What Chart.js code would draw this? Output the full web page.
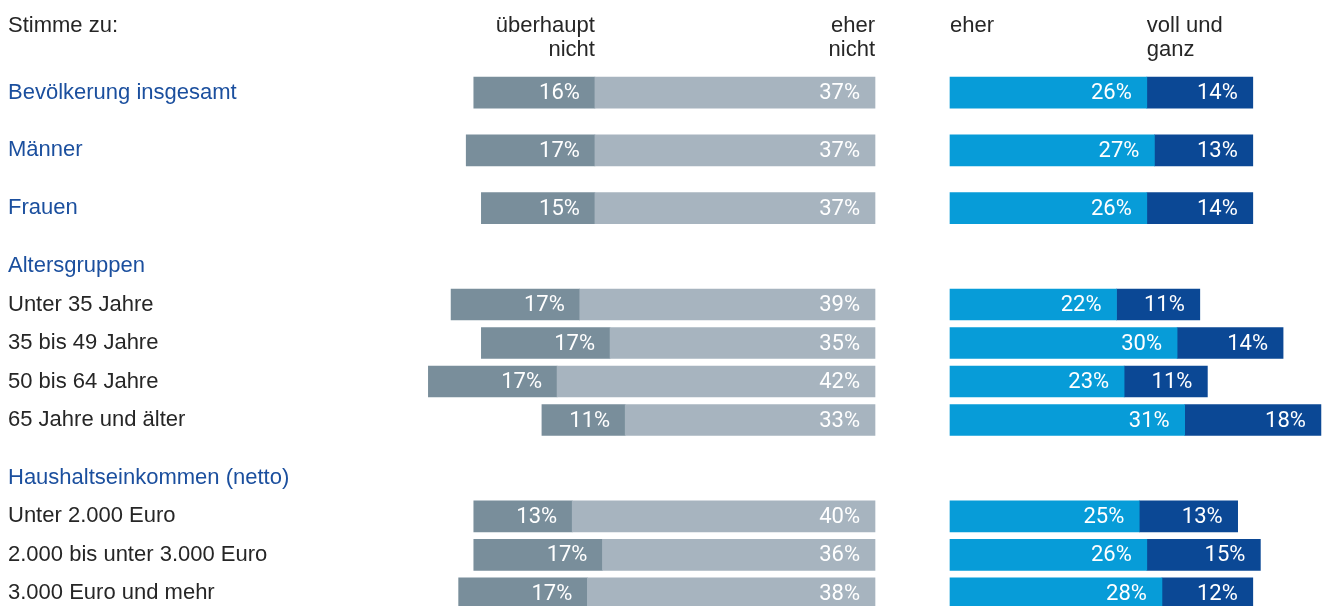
<!DOCTYPE html>
<html>
<head>
<meta charset="utf-8">
<script src="https://cdn.jsdelivr.net/npm/chart.js@4/dist/chart.umd.min.js"></script>
<style>
html, body { margin: 0; padding: 0; background: #fff; }
#wrap { position: relative; width: 1322px; height: 606px; }
</style>
</head>
<body>
<div id="wrap"><canvas id="c"></canvas></div>
<script>
// data
const rowLabels = ["Bevölkerung insgesamt", "Männer", "Frauen", "Altersgruppen",
  "Unter 35 Jahre", "35 bis 49 Jahre", "50 bis 64 Jahre", "65 Jahre und älter",
  "Haushaltseinkommen (netto)", "Unter 2.000 Euro", "2.000 bis unter 3.000 Euro", "3.000 Euro und mehr"];
const ueberhauptNicht = [16, 17, 15, null, 17, 17, 17, 11, null, 13, 17, 17];
const eherNicht       = [37, 37, 37, null, 39, 35, 42, 33, null, 40, 36, 38];
const eher            = [26, 27, 26, null, 22, 30, 23, 31, null, 25, 26, 28];
const vollUndGanz     = [14, 13, 14, null, 11, 14, 11, 18, null, 13, 15, 12];
const blueRows = [0, 1, 2, 3, 8];

// layout: empty slots before each row, so the groups get more air
const rowGaps = [0, 3, 3, 3, 2, 2, 2, 2, 3, 2, 2, 2];

const BLUE_TEXT = '#1b4f9e', DARK_TEXT = '#262626';
const FONT = '"Liberation Sans", Arial, sans-serif';

const PX_PER_PCT = 7.57;
const Y_AXIS_W = 400, PAD_LEFT = 8;
const AREA_LEFT = PAD_LEFT + Y_AXIS_W, AREA_RIGHT = 1322;
const LEFT_ZERO = 875, RIGHT_ZERO = 950;

// spread rows over category slots
let labels = [], colors = [], slotOf = [];
rowGaps.forEach((g, i) => {
  for (let k = 1; k < g; k++) { labels.push(''); colors.push(DARK_TEXT); }
  slotOf.push(labels.length);
  labels.push(rowLabels[i]);
  colors.push(blueRows.includes(i) ? BLUE_TEXT : DARK_TEXT);
});
function spread(arr) {
  let out = labels.map(() => null);
  arr.forEach((v, i) => { out[slotOf[i]] = v; });
  return out;
}

const barLabels = {
  id: 'barLabels',
  afterDatasetsDraw(chart) {
    const ctx = chart.ctx;
    ctx.save();
    ctx.font = '22px Roboto, ' + FONT;
    ctx.fillStyle = '#fff';
    ctx.textAlign = 'right';
    ctx.textBaseline = 'middle';
    chart.data.datasets.forEach((ds, di) => {
      chart.getDatasetMeta(di).data.forEach((bar, i) => {
        let v = ds.data[i];
        if (v == null) return;
        let right = Math.max(bar.x, bar.base);
        ctx.fillText(v + '%', right - 15, bar.y + 1);
      });
    });
    ctx.restore();
  }
};

const headers = {
  id: 'headers',
  afterDraw(chart) {
    const ctx = chart.ctx, xl = chart.scales.xl, xr = chart.scales.x;
    ctx.save();
    ctx.font = '22px ' + FONT;
    ctx.fillStyle = DARK_TEXT;
    ctx.textBaseline = 'alphabetic';
    ctx.textAlign = 'left';
    ctx.fillText('Stimme zu:', PAD_LEFT, 32);
    ctx.fillText('eher', xr.getPixelForValue(0), 32);
    let xv = xr.getPixelForValue(eher[0]);
    ctx.fillText('voll und', xv, 32);
    ctx.fillText('ganz', xv, 56);
    ctx.textAlign = 'right';
    let xu = xl.getPixelForValue(eherNicht[0]);
    ctx.fillText('überhaupt', xu, 32);
    ctx.fillText('nicht', xu, 56);
    ctx.fillText('eher', xl.getPixelForValue(0), 32);
    ctx.fillText('nicht', xl.getPixelForValue(0), 56);
    ctx.restore();
  }
};

const barOpts = { barThickness: 31, borderWidth: 0, clip: false };

new Chart(document.getElementById('c'), {
  type: 'bar',
  data: {
    labels: labels,
    datasets: [
      { label: 'eher nicht', data: spread(eherNicht), backgroundColor: '#a7b4bf', xAxisID: 'xl', ...barOpts },
      { label: 'überhaupt nicht', data: spread(ueberhauptNicht), backgroundColor: '#798e9b', xAxisID: 'xl', ...barOpts },
      { label: 'eher', data: spread(eher), backgroundColor: '#079cd8', xAxisID: 'x', ...barOpts },
      { label: 'voll und ganz', data: spread(vollUndGanz), backgroundColor: '#0b4895', xAxisID: 'x', ...barOpts }
    ]
  },
  options: {
    indexAxis: 'y',
    responsive: true,
    maintainAspectRatio: false,
    animation: false,
    layout: { padding: { left: PAD_LEFT, right: 0, top: 83, bottom: 3 } },
    plugins: { legend: { display: false }, tooltip: { enabled: false } },
    scales: {
      xl: {
        type: 'linear', position: 'bottom', display: false, stacked: true, reverse: true,
        min: -(AREA_RIGHT - LEFT_ZERO) / PX_PER_PCT,
        max: (LEFT_ZERO - AREA_LEFT) / PX_PER_PCT
      },
      x: {
        type: 'linear', position: 'bottom', display: false, stacked: true,
        min: -(RIGHT_ZERO - AREA_LEFT) / PX_PER_PCT,
        max: (AREA_RIGHT - RIGHT_ZERO) / PX_PER_PCT
      },
      y: {
        stacked: true,
        grid: { display: false },
        border: { display: false },
        afterFit: s => { s.width = Y_AXIS_W; },
        ticks: {
          autoSkip: false,
          crossAlign: 'far',
          padding: 0,
          color: c => colors[c.index],
          font: { family: FONT, size: 22, lineHeight: 0.2 }
        }
      }
    }
  },
  plugins: [barLabels, headers]
});
</script>
</body>
</html>
